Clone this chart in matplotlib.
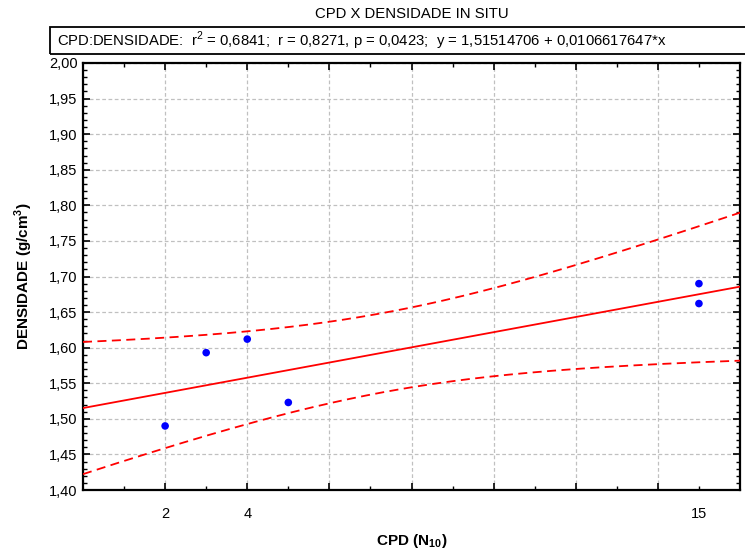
import numpy as np
import matplotlib
matplotlib.use("Agg")
import matplotlib.pyplot as plt
from matplotlib.ticker import MultipleLocator, FuncFormatter

# ---- data ----
cpd = [2, 3, 4, 5, 15, 15]
densidade = [1.49, 1.593, 1.612, 1.523, 1.69, 1.662]
intercept = 1.51514706
slope = 0.0106617647
t_crit = 2.776  # 95%, df = 4
x_tick_labels = {2: "2", 4: "4", 15: "15"}
title = "CPD X DENSIDADE IN SITU"
stats_text = ("CPD:DENSIDADE:  r$^2$ = 0,6841;  r = 0,8271, p = 0,0423;  "
              "y = 1,51514706 + 0,0106617647*x")

plt.rcParams['font.family'] = ['Liberation Sans Narrow', 'Liberation Sans', 'DejaVu Sans']
plt.rcParams['mathtext.fontset'] = 'custom'
plt.rcParams['mathtext.rm'] = 'Liberation Sans'
plt.rcParams['mathtext.bf'] = 'Liberation Sans:bold'

fig = plt.figure(figsize=(7.45, 5.53), dpi=100)
ax = fig.add_axes([83/745, 1-490/553, (740-83)/745, (490-63)/553])

x = np.array(cpd, float)
y = np.array(densidade, float)
n = len(x)
xx = np.linspace(0, 16, 200)
yy = intercept + slope * xx
res = y - (intercept + slope * x)
s = np.sqrt(np.sum(res**2) / (n - 2))
sxx = np.sum((x - x.mean())**2)
se = s * np.sqrt(1/n + (xx - x.mean())**2 / sxx)

ax.plot(xx, yy, color='#ff0000', lw=1.3, zorder=3)
ax.plot(xx, yy + t_crit*se, color='#ff0000', lw=1.3, ls=(0, (5, 3)), zorder=3)
ax.plot(xx, yy - t_crit*se, color='#ff0000', lw=1.3, ls=(0, (5, 3)), zorder=3)
ax.scatter(x, y, s=30, color='#0000ff', zorder=4, edgecolors='none')

ax.set_xlim(0, 16)
ax.set_ylim(1.40, 2.00)

def xfmt(v, pos):
    return x_tick_labels.get(int(round(v)), "")

# x ticks
ax.xaxis.set_major_locator(MultipleLocator(2))
ax.xaxis.set_minor_locator(MultipleLocator(1))
ax.xaxis.set_major_formatter(FuncFormatter(xfmt))
ax.xaxis.set_minor_formatter(FuncFormatter(xfmt))
# y ticks
yt = np.round(np.arange(1.40, 2.001, 0.05), 2)
ax.set_yticks(yt)
ax.set_yticklabels([f"{v:.2f}".replace('.', ',') for v in yt])
ax.yaxis.set_minor_locator(MultipleLocator(0.01))

ax.tick_params(which='both', direction='in', top=True, right=True, colors='black',
               labelsize=10.5)
ax.tick_params(which='major', length=5, width=1.2)
ax.tick_params(which='minor', length=3, width=1.0)
ax.tick_params(axis='x', which='both', pad=12)
ax.tick_params(axis='y', which='major', pad=4)

ax.grid(True, which='major', color='#c0c0c0', ls=(0, (3, 2)), lw=0.9)
ax.set_axisbelow(True)
for sp in ax.spines.values():
    sp.set_linewidth(1.6)

ax.set_xlabel(r"CPD (N$_{\mathbf{10}}$)", fontweight='bold', fontsize=11, labelpad=8)
ax.set_ylabel(r"DENSIDADE (g/cm$^{\mathbf{3}}$)", fontweight='bold', fontsize=11, labelpad=10)

fig.text(0.5 * (83 + 740) / 745, 1 - 14/553, title, ha='center', va='center', fontsize=10.7)

# stats box
fig.patches.append(plt.Rectangle((50/745, 1-54/553), (745-50)/745 + 0.01, 27/553,
                                 transform=fig.transFigure, fill=False,
                                 edgecolor='black', lw=1.3))
fig.text(57/745, 1 - 41/553, stats_text, ha='left', va='center', fontsize=10.7)

fig.savefig("out.png", dpi=100)
